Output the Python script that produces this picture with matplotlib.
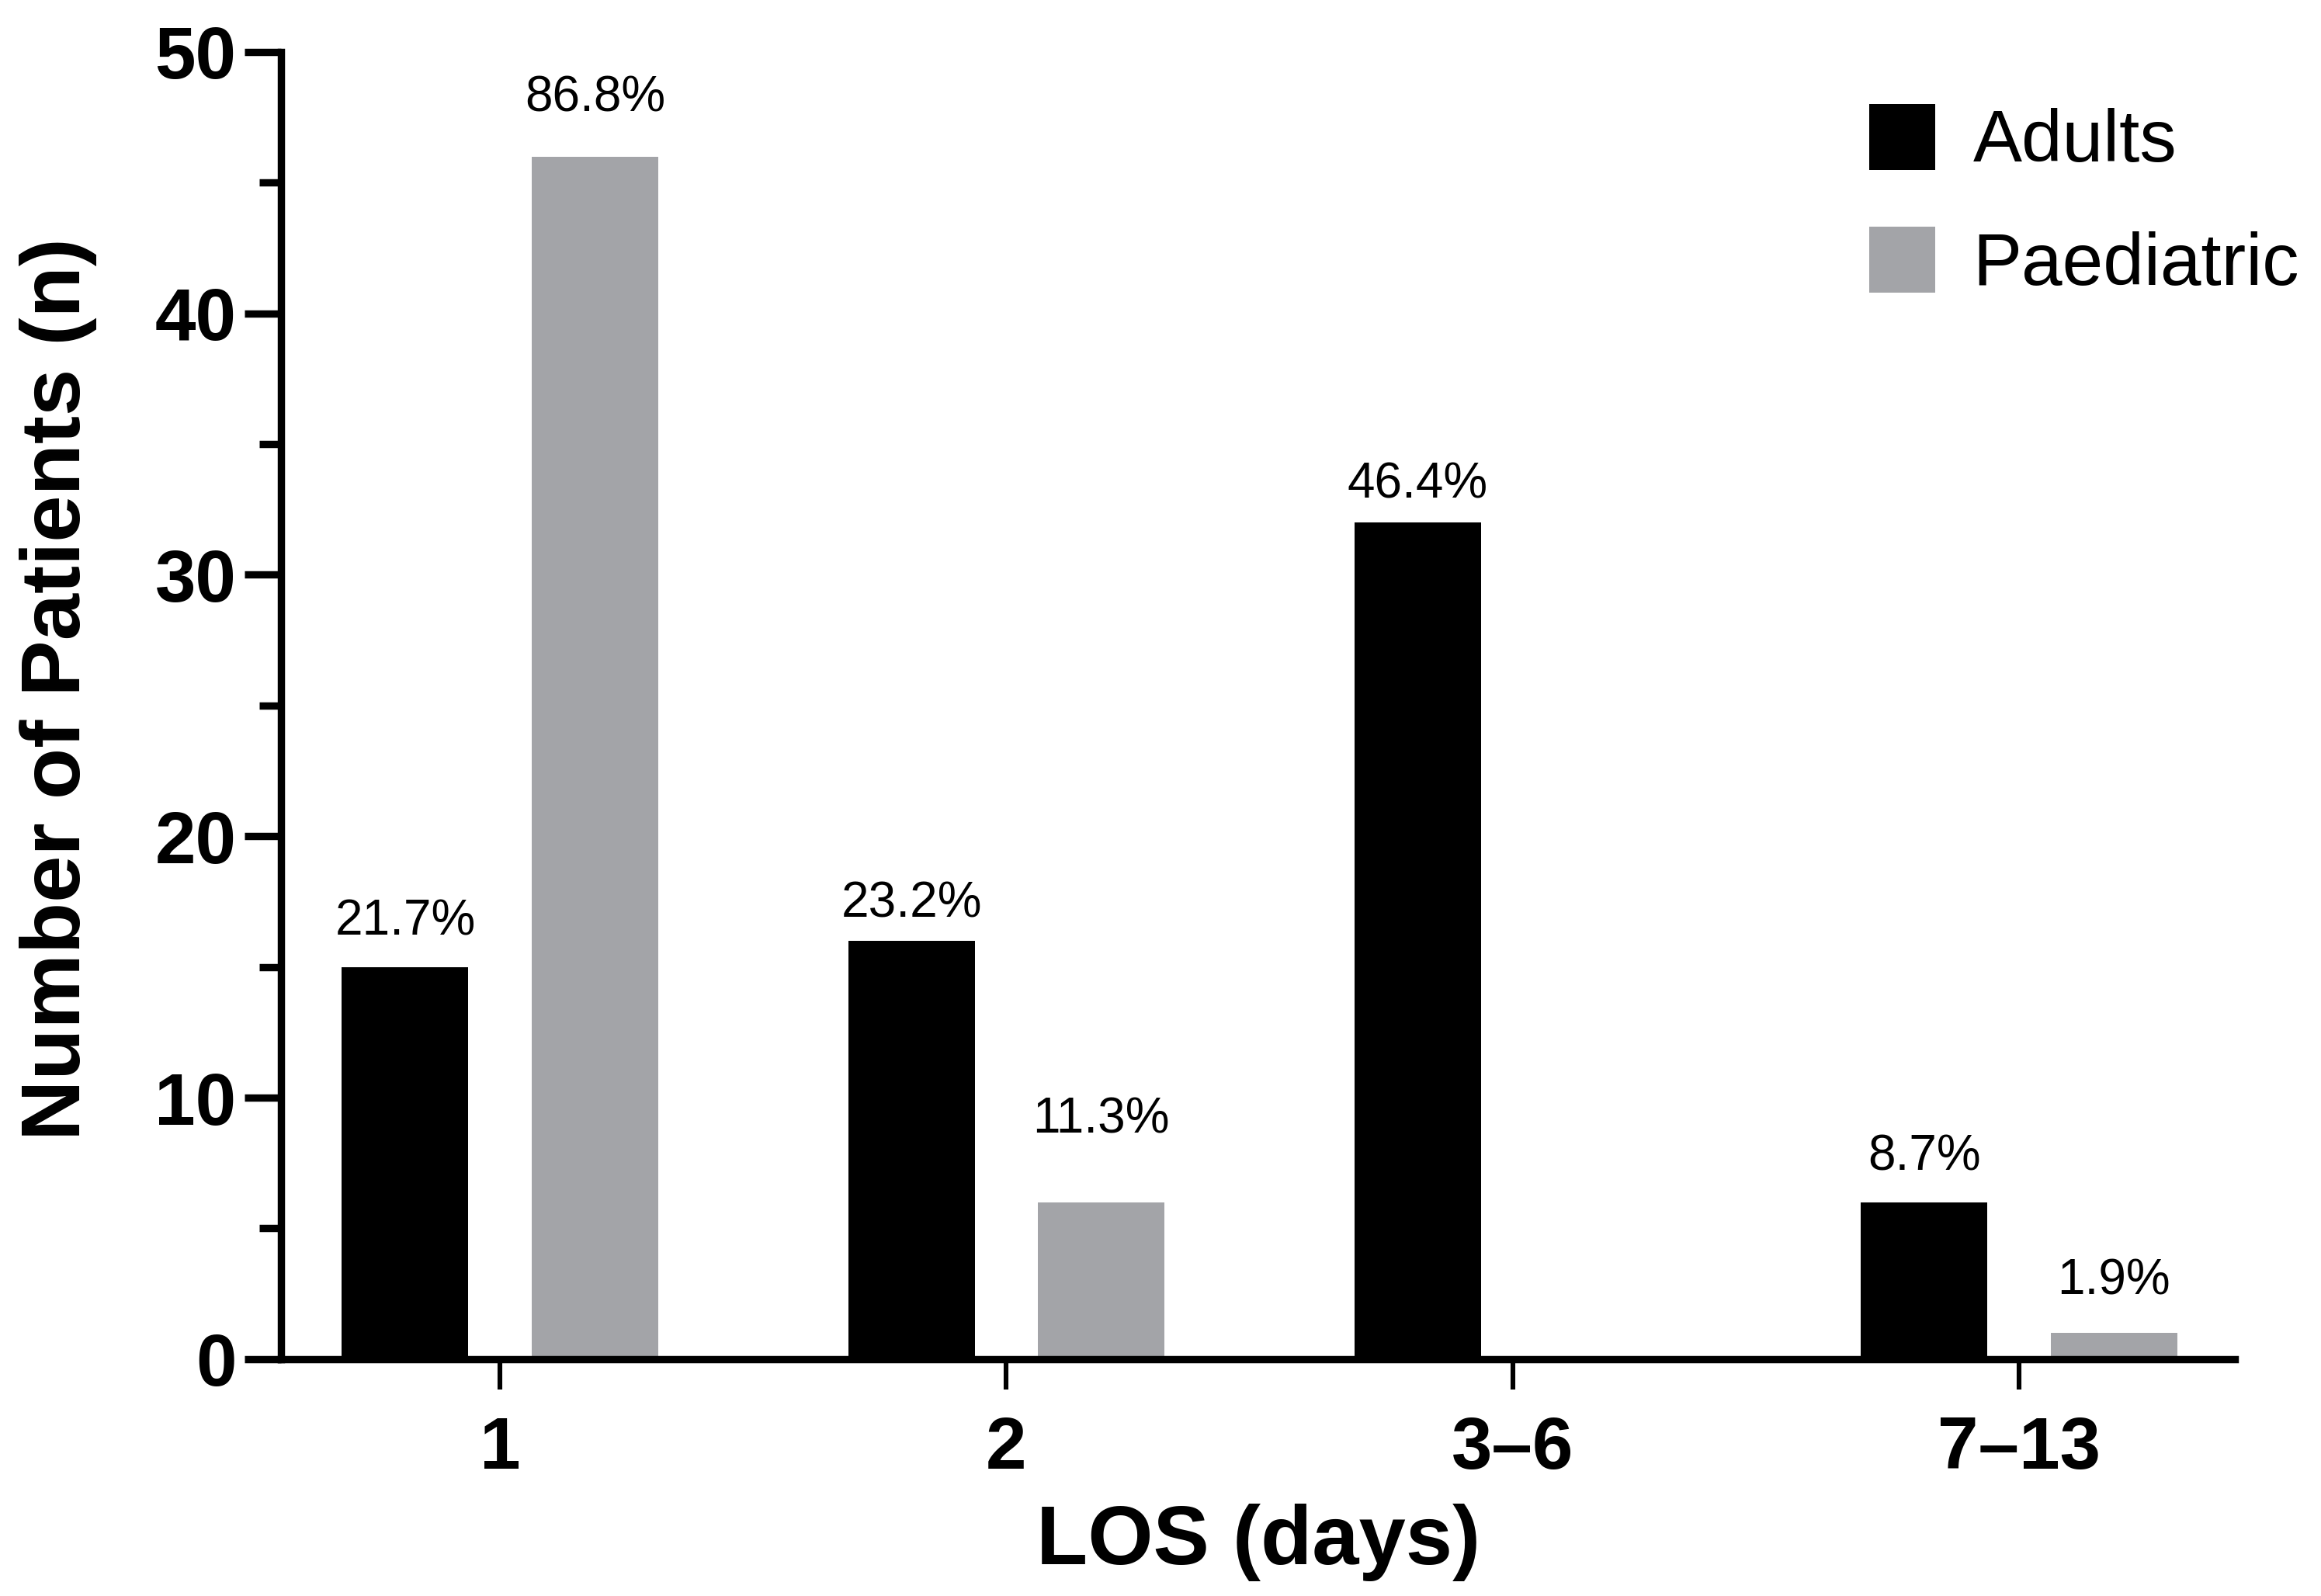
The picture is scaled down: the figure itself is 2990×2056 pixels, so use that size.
import matplotlib
matplotlib.use("Agg")
from matplotlib import pyplot as plt
import numpy as np

plt.rcParams['font.family'] = ['Liberation Sans', 'DejaVu Sans']

# data
los_days = ["1", "2", "3–6", "7–13"]
adults = [15, 16, 32, 6]
paediatric = [46, 6, 0, 1]
adults_pct = ["21.7%", "23.2%", "46.4%", "8.7%"]
paediatric_pct = ["86.8%", "11.3%", "", "1.9%"]

# gap between bar top and its label, points (labels were placed by hand)
adults_gap = [15, 11, 11.5, 15]
paediatric_gap = [21, 32, 0, 18]

grey = "#a3a4a8"
lw = 3.4

fig = plt.figure(figsize=(14.95, 10.28), dpi=200)
ax = fig.add_axes([0.121, 0.1484, 0.842, 0.8191])

x = np.arange(len(los_days))
width = 0.25
offset = 0.1875

bars_a = ax.bar(x - offset, adults, width, color="black", linewidth=0, label="Adults")
bars_p = ax.bar(x + offset, paediatric, width, color=grey, linewidth=0, label="Paediatric")

for bars, labels, gaps in [(bars_a, adults_pct, adults_gap), (bars_p, paediatric_pct, paediatric_gap)]:
    for rect, lab, gap in zip(bars, labels, gaps):
        if not lab:
            continue
        ax.annotate(
            lab,
            (rect.get_x() + rect.get_width() / 2, rect.get_height()),
            xytext=(0, gap),
            textcoords="offset points",
            ha="center",
            va="baseline",
            fontsize=23
        )

ax.set_xlim(-0.433, 3.427)
ax.set_ylim(0, 50)

ax.spines["top"].set_visible(False)
ax.spines["right"].set_visible(False)
ax.spines["left"].set_linewidth(lw)
ax.spines["bottom"].set_linewidth(lw)
ax.spines["left"].set_bounds(0, 50)

ax.set_yticks(np.arange(0, 51, 10))
ax.set_yticks(np.arange(5, 50, 10), minor=True)
ax.set_xticks(x)
ax.set_xticklabels(los_days)

ax.tick_params(axis="y", which="major", length=17, width=lw, pad=3.6, labelsize=34)
ax.tick_params(axis="y", which="minor", length=10, width=lw)
ax.tick_params(axis="x", which="major", length=14, width=2.2, pad=12, labelsize=34)
for t in ax.get_xticklabels() + ax.get_yticklabels():
    t.set_fontweight("bold")

ax.set_ylabel("Number of Patients (n)", fontsize=39, fontweight="bold", va="center")
ax.yaxis.set_label_coords(-0.114, 0.5125)
ax.set_xlabel("LOS (days)", fontsize=39, fontweight="bold", va="baseline")
ax.xaxis.set_label_coords(0.5, -0.157)

ax.legend(
    loc="upper left",
    bbox_to_anchor=(0.8055, 0.935),
    bbox_transform=fig.transFigure,
    frameon=False,
    fontsize=34,
    handlelength=0.9,
    handleheight=1.008,
    handletextpad=0.51,
    labelspacing=0.67,
    borderpad=0,
    borderaxespad=0
)

plt.savefig("out.png", dpi=200)
